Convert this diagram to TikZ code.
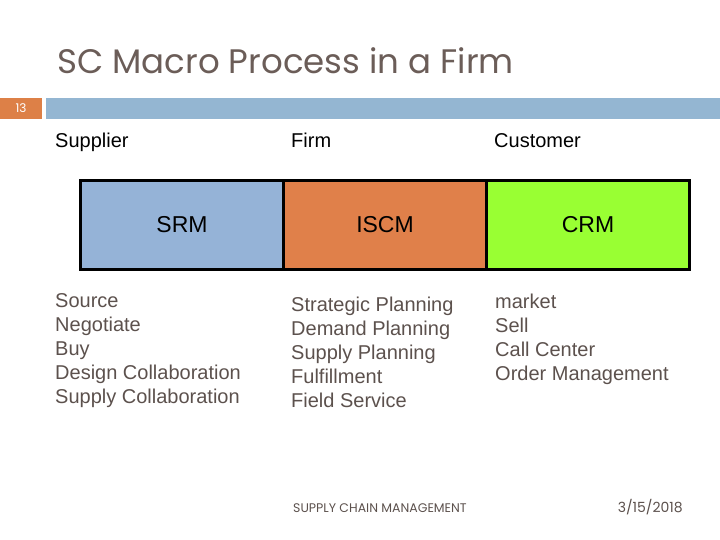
\documentclass[tikz,border=0pt]{standalone}
\usepackage{fontspec}
\setmainfont{Liberation Sans}
\newfontfamily\titlefont{Poppins}
\usetikzlibrary{positioning}
\definecolor{titlegray}{HTML}{6B5D58}
\definecolor{listgray}{HTML}{5C514D}
\definecolor{barblue}{HTML}{94B6D2}
\definecolor{barorange}{HTML}{DD8047}
\definecolor{srmblue}{HTML}{95B3D7}
\definecolor{iscmorange}{HTML}{E0804A}
\definecolor{crmgreen}{HTML}{99FF33}
\tikzset{
  mbox/.style={draw,line width=2.5pt,outer sep=0pt,minimum width=203pt,minimum height=89pt,
    font=\fontsize{23}{26}\selectfont},
  head/.style={anchor=base west,inner sep=0pt,font=\fontsize{20}{24}\selectfont},
  tasks/.style={anchor=north west,inner sep=0pt,align=left,text=listgray,
    font=\fontsize{20}{24}\selectfont}
}
\begin{document}
\begin{tikzpicture}[x=1pt,y=-1pt,node distance=0pt]
  \useasboundingbox (0,0) rectangle (720,540);
  % title and slide bar
  \node[anchor=base west,inner sep=0pt,text=titlegray,font=\titlefont\fontsize{34}{40}\selectfont] (title) at (57,74) {SC Macro Process in a Firm};
  \fill[barorange] (0,98) rectangle (42,119);
  \fill[barblue] (46,98) rectangle (720,119);
  \node[text=white,font=\titlefont\fontsize{12}{12}\selectfont] (num) at (21,108.5) {13};
  % column heads
  \node[head] (supplier) at (55,148) {Supplier};
  \node[head] (firm) at (291,148) {Firm};
  \node[head] (customer) at (494,148) {Customer};
  % the three processes
  \node[mbox,fill=srmblue] (srm) at (182,225) {SRM};
  \node[mbox,fill=iscmorange,right=of srm] (iscm) {ISCM};
  \node[mbox,fill=crmgreen,right=of iscm] (crm) {CRM};
  % what each one covers
  \node[tasks] (srmlist) at (55,293) {Source\\Negotiate\\Buy\\Design Collaboration\\Supply Collaboration};
  \node[tasks] (iscmlist) at (291,297) {Strategic Planning\\Demand Planning\\Supply Planning\\Fulfillment\\Field Service};
  \node[tasks] (crmlist) at (495,294) {market\\Sell\\Call Center\\Order Management};
  % footer
  \node[anchor=base west,inner sep=0pt,text=listgray,font=\titlefont\fontsize{12.5}{14}\selectfont] (foot) at (293,512) {SUPPLY CHAIN MANAGEMENT};
  \node[anchor=base east,inner sep=0pt,text=listgray,font=\titlefont\fontsize{14}{16}\selectfont] (date) at (683,512) {3/15/2018};
\end{tikzpicture}
\end{document}
